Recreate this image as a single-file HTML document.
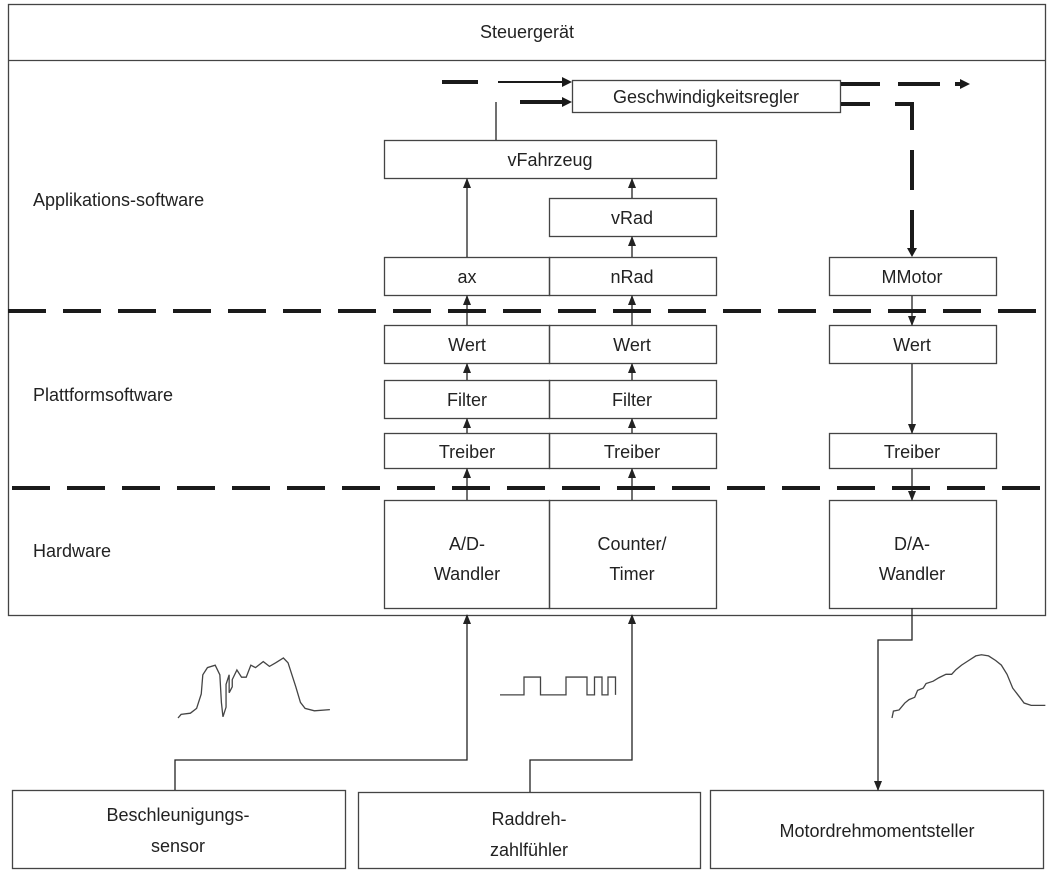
<!DOCTYPE html>
<html><head><meta charset="utf-8"><style>
html,body{margin:0;padding:0;background:#fff;width:1055px;height:875px;overflow:hidden}
svg text{font-family:"Liberation Sans",sans-serif;font-size:18px;fill:#222}
</style></head><body>
<svg width="1055" height="875" viewBox="0 0 1055 875" xmlns="http://www.w3.org/2000/svg">
<defs>
<marker id="a" markerWidth="10" markerHeight="10" refX="9" refY="5" orient="auto" markerUnits="userSpaceOnUse"><path d="M0,1 L10,5 L0,9 Z" fill="#222"/></marker>
</defs>
<g fill="none" stroke="#444" stroke-width="1.3">
<rect x="8.5" y="4.5" width="1037" height="611"/>
<line x1="8.5" y1="60.5" x2="1045.5" y2="60.5"/>
<rect x="572.5" y="80.5" width="268" height="32"/>
<rect x="384.5" y="140.5" width="332" height="38"/>
<rect x="549.5" y="198.5" width="167" height="38"/>
<rect x="384.5" y="257.5" width="165" height="38"/><rect x="549.5" y="257.5" width="167" height="38"/>
<rect x="829.5" y="257.5" width="167" height="38"/>
<rect x="384.5" y="325.5" width="165" height="38"/><rect x="549.5" y="325.5" width="167" height="38"/>
<rect x="829.5" y="325.5" width="167" height="38"/>
<rect x="384.5" y="380.5" width="165" height="38"/><rect x="549.5" y="380.5" width="167" height="38"/>
<rect x="384.5" y="433.5" width="165" height="35"/><rect x="549.5" y="433.5" width="167" height="35"/>
<rect x="829.5" y="433.5" width="167" height="35"/>
<rect x="384.5" y="500.5" width="165" height="108"/><rect x="549.5" y="500.5" width="167" height="108"/>
<rect x="829.5" y="500.5" width="167" height="108"/>
<rect x="12.5" y="790.5" width="333" height="78"/>
<rect x="358.5" y="792.5" width="342" height="76"/>
<rect x="710.5" y="790.5" width="333" height="78"/>
</g>
<g stroke="#222" stroke-width="1.3" fill="none" marker-end="url(#a)">
<line x1="467" y1="257" x2="467" y2="179"/>
<line x1="632" y1="198" x2="632" y2="179"/>
<line x1="632" y1="257" x2="632" y2="237"/>
<line x1="467" y1="325" x2="467" y2="296"/>
<line x1="632" y1="325" x2="632" y2="296"/>
<line x1="467" y1="380" x2="467" y2="364"/><line x1="632" y1="380" x2="632" y2="364"/>
<line x1="467" y1="433" x2="467" y2="419"/><line x1="632" y1="433" x2="632" y2="419"/>
<line x1="467" y1="500" x2="467" y2="469"/><line x1="632" y1="500" x2="632" y2="469"/>
<line x1="912" y1="296" x2="912" y2="325"/>
<line x1="912" y1="364" x2="912" y2="433"/>
<line x1="912" y1="469" x2="912" y2="500"/>
<polyline points="175,790 175,760 467,760 467,615"/>
<polyline points="530,792 530,760 632,760 632,615"/>
<polyline points="912,608 912,640 878,640 878,790"/>
</g>
<line x1="496" y1="140" x2="496" y2="102" stroke="#222" stroke-width="1.3"/>
<g stroke="#1a1a1a" stroke-width="4" fill="none" stroke-dasharray="38,17">
<line x1="8" y1="311" x2="1045" y2="311"/>
<line x1="12" y1="488" x2="1045" y2="488"/>
</g>
<g stroke="#1a1a1a" stroke-width="4" fill="none">
<line x1="442" y1="82" x2="478" y2="82"/><line x1="498" y1="82" x2="562" y2="82" stroke-width="2"/>
<line x1="520" y1="102" x2="562" y2="102"/>
<line x1="841" y1="84" x2="880" y2="84"/><line x1="898" y1="84" x2="940" y2="84"/><line x1="955" y1="84" x2="962" y2="84"/>
<polyline points="841,104 870,104" /><polyline points="895,104 912,104 912,130"/>
<line x1="912" y1="150" x2="912" y2="190"/><line x1="912" y1="210" x2="912" y2="248"/>
</g>
<g fill="#1a1a1a">
<path d="M562,77 L572,82 L562,87Z"/><path d="M562,97 L572,102 L562,107Z"/>
<path d="M960,79 L970,84 L960,89Z"/><path d="M907,248 L912,257 L917,248Z"/>
</g>
<g stroke="#444" stroke-width="1.3" fill="none" vector-effect="non-scaling-stroke">
<g transform="translate(178,718) scale(1.55,1.2) translate(-178,-718)">
<polyline vector-effect="non-scaling-stroke" points="178,718 180,715 186,714 190,710 193,698 194,682 197,676 202,674 205,682 206,705 207,717 209,709 209,690 211,682 211,697 213,692 213,686 216,678 219,684 222,684 225,674 228,676 233,671 237,675 241,672 246,668 249,672 254,692 257,705 260,710 266,712 276,711"/>
</g>
<g transform="translate(500,697) scale(1.5,1.05) translate(-500,-697)">
<polyline vector-effect="non-scaling-stroke" points="500,695 516,695 516,678 527,678 527,695 544,695 544,678 558,678 558,695 563,695 563,678 568,678 568,695 572,695 572,678 577,678 577,695"/>
</g>
<g transform="translate(892,718) scale(1.42,1.15) translate(-892,-718)">
<polyline vector-effect="non-scaling-stroke" points="892,718 893,712 897,711 901,705 904,702 908,700 910,694 914,692 916,688 921,686 925,683 930,680 934,680 937,676 941,672 946,668 951,664 955,663 960,664 965,668 969,672 973,680 977,692 982,700 985,705 990,707 1000,707"/>
</g>
</g>
<text x="527" y="38" text-anchor="middle">Steuergerät</text>
<text x="33" y="206">Applikations-software</text>
<text x="33" y="401">Plattformsoftware</text>
<text x="33" y="557">Hardware</text>
<g text-anchor="middle">
<text x="706" y="103">Geschwindigkeitsregler</text>
<text x="550" y="166">vFahrzeug</text>
<text x="632" y="224">vRad</text>
<text x="467" y="283">ax</text><text x="632" y="283">nRad</text><text x="912" y="283">MMotor</text>
<text x="467" y="351">Wert</text><text x="632" y="351">Wert</text><text x="912" y="351">Wert</text>
<text x="467" y="406">Filter</text><text x="632" y="406">Filter</text>
<text x="467" y="458">Treiber</text><text x="632" y="458">Treiber</text><text x="912" y="458">Treiber</text>
<text x="467" y="550">A/D-</text><text x="467" y="580">Wandler</text>
<text x="632" y="550">Counter/</text><text x="632" y="580">Timer</text>
<text x="912" y="550">D/A-</text><text x="912" y="580">Wandler</text>
<text x="178" y="821">Beschleunigungs-</text><text x="178" y="852">sensor</text>
<text x="529" y="825">Raddreh-</text><text x="529" y="856">zahlfühler</text>
<text x="877" y="837">Motordrehmomentsteller</text>
</g>
</svg>
</body></html>
